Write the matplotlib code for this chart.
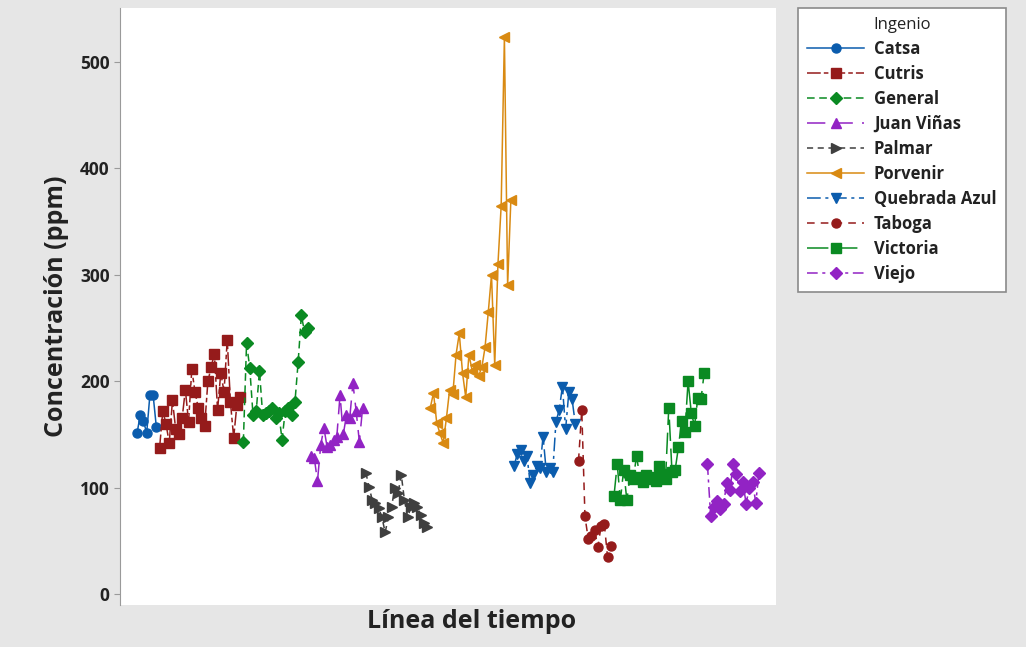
import numpy as np
import matplotlib
matplotlib.use("Agg")
import matplotlib.pyplot as plt

plt.rcParams['font.family'] = ['Open Sans', 'DejaVu Sans']

# values per sugar mill (ppm), in time order
catsa = [151, 168, 163, 151, 187, 187, 157]
cutris = [137, 172, 160, 142, 182, 155, 150, 165, 192, 162, 211, 190, 175, 165,
          158, 200, 213, 226, 173, 208, 190, 239, 180, 147, 178, 185]
general = [143, 236, 212, 168, 172, 210, 168, 170, 172, 175, 165, 170, 145, 172,
           175, 168, 180, 218, 262, 246, 250]
juan_vinas = [130, 128, 106, 140, 156, 138, 140, 145, 148, 187, 150, 168, 165, 198,
              172, 143, 175]
palmar = [114, 101, 88, 86, 81, 72, 58, 72, 82, 100, 95, 112, 88, 72, 82, 86, 82,
          74, 67, 63]
porvenir = [175, 189, 161, 151, 142, 165, 192, 188, 225, 245, 208, 185, 225, 210,
            215, 205, 213, 232, 265, 300, 215, 310, 365, 523, 290, 370]
quebrada = [120, 132, 135, 125, 130, 104, 112, 120, 118, 148, 115, 118, 115, 162,
            173, 195, 155, 190, 183, 160]
taboga = [125, 173, 73, 52, 55, 60, 44, 64, 66, 35, 45]
victoria = [92, 122, 88, 117, 88, 112, 108, 130, 110, 105, 112, 108, 110, 106, 120,
            113, 108, 175, 115, 117, 138, 163, 152, 200, 170, 158, 184, 183, 208]
viejo = [122, 73, 82, 87, 80, 85, 104, 98, 122, 113, 97, 105, 85, 100, 105, 86, 114]

names = ["Catsa", "Cutris", "General", "Juan Viñas", "Palmar", "Porvenir",
         "Quebrada Azul", "Taboga", "Victoria", "Viejo"]
series = [catsa, cutris, general, juan_vinas, palmar, porvenir, quebrada, taboga,
          victoria, viejo]
colors = ["#0b5cad", "#951b1b", "#0a8a22", "#9223c4", "#3f3f3f", "#d98a12",
          "#0b5cad", "#951b1b", "#0a8a22", "#9223c4"]
markers = ["o", "s", "D", "^", ">", "<", "v", "o", "s", "D"]
styles = ["-", (0, (9, 2, 3, 2)), (0, (5, 3)), (0, (12, 6)), (0, (4, 3)), "-",
          (0, (9, 3, 2, 3)), (0, (5, 4)), (0, (14, 5)), (0, (7, 3, 2, 3))]

fig = plt.figure(figsize=(10.26, 6.47), dpi=100, facecolor="#e6e6e6")
ax = fig.add_axes([120 / 1026, 42 / 647, 656 / 1026, 597 / 647])
ax.set_facecolor("white")

start = 0
for name, vals, c, m, ls in zip(names, series, colors, markers, styles):
    x = np.arange(start, start + len(vals))
    ax.plot(x, vals, color=c, marker=m, linestyle=ls, linewidth=1.1,
            markersize=6.5, label=name)
    start += len(vals)

step = 622 / (start - 1)
ax.set_xlim(-17 / step, start - 1 + 17 / step)
ax.set_ylim(-10.3, 550.7)
ax.set_yticks([0, 100, 200, 300, 400, 500])
ax.set_xticks([])
for s in ["top", "right", "bottom"]:
    ax.spines[s].set_visible(False)
ax.spines["left"].set_color("#9a9a9a")
ax.tick_params(axis="y", colors="#9a9a9a", labelcolor="#222222", length=4,
               labelsize=12.5)
for lbl in ax.get_yticklabels():
    lbl.set_fontweight("bold")

ax.set_ylabel("Concentración (ppm)", fontsize=18, fontweight="bold",
              color="#222222", labelpad=8)
fig.text(472 / 1026, 1 - 621 / 647, "Línea del tiempo", fontsize=18,
         fontweight="bold", color="#222222", ha="center", va="center")

handles, labels = ax.get_legend_handles_labels()
leg = fig.legend(handles, labels, title="Ingenio", loc="upper left",
                 bbox_to_anchor=(798 / 1026, 1 - 8 / 647), frameon=True,
                 fontsize=12, title_fontsize=12, handlelength=3.4,
                 labelspacing=0.42, borderpad=0.55, handletextpad=0.6,
                 borderaxespad=0, fancybox=False)
leg.get_frame().set_edgecolor("#8a8a8a")
leg.get_frame().set_facecolor("white")
leg.get_frame().set_alpha(1)
leg.get_frame().set_linewidth(1.2)
for t in leg.get_texts():
    t.set_fontweight("bold")
    t.set_color("#222222")
leg.get_title().set_color("#222222")

fig.savefig("out.png", dpi=100, facecolor=fig.get_facecolor())
